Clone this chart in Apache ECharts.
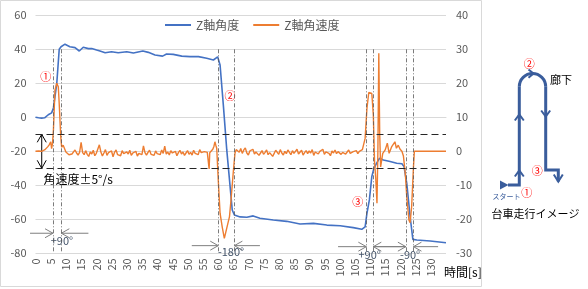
<!DOCTYPE html>
<html><head><meta charset="utf-8">
<script src="https://cdn.jsdelivr.net/npm/echarts@6/dist/echarts.min.js"></script>
<style>html,body{margin:0;padding:0;background:#fff}#c{width:588px;height:289px}</style>
</head><body><div id="c"></div>
<script>
const seriesNames = ['Z軸角度', 'Z軸角速度'];

// Z-axis angle [time s, deg] (left axis)
const angleData = [[0,0],[1,-0.3],[2,-0.5],[3,-0.3],[4.2,1.5],[5.3,2.6],[5.9,5.5],[7,20],[7.8,40],[8.4,41.5],[9.7,43],[11.3,41.5],[13,41],[14.4,39],[15.7,41.2],[17.4,40.4],[18.5,40.5],[20.1,39.6],[21.2,39],[22.9,38],[25,38.6],[27.2,38],[30,38.6],[32.2,37.8],[35.3,39],[37.1,38.2],[39.3,36.6],[41.8,36],[43.1,37.2],[45.3,37],[48.1,36],[50.8,35.7],[53.6,35.7],[56.3,34.7],[58.5,33.7],[59.9,35.6],[60.7,30.8],[61.8,6.6],[62.9,-19.2],[64,-40.8],[64.7,-54.5],[65.4,-57.5],[67.3,-58.6],[69.5,-58.8],[71.6,-58],[73.8,-59.4],[78.2,-60.4],[82.6,-61.2],[87,-62.8],[91.4,-62.4],[95.8,-63.4],[100.2,-63.8],[104.5,-64.9],[107.3,-65.9],[108.4,-64.4],[109,-56.5],[109.8,-48.6],[110.6,-34.9],[111.3,-30],[112.2,-27],[113.1,-24.1],[114.4,-25.1],[116.6,-26],[118.8,-27],[120.5,-27.3],[121.2,-29],[122.1,-38.8],[123.2,-58.5],[124.1,-71.8],[125.4,-72.2],[129.8,-72.8],[135,-73.8]];

// Z-axis angular rate [time s, deg/s] (right axis)
const rateStart = [[0,0],[0.5,0],[1,0.1],[1.5,-0.1],[2,0],[2.5,0.2],[3,0.4],[3.5,0.9],[4,1.3],[4.5,1.9],[5,2.8],[5.3,0.8],[5.6,2.4],[5.9,6.3],[6.4,18],[7,20],[7.5,19],[7.8,14],[8.3,4.3],[8.6,1.2],[9.1,1.8],[9.6,1.4],[10,-0.2],[10.5,0.3],[11,-1],[11.5,-0.6]];
const rateCruise1 = [[12,-0.8],[12.5,-1.2],[13,0.4],[13.5,-0.5],[14,-1.1],[14.5,-0.3],[15,2.6],[15.5,-0.4],[16,-1.0],[16.5,0.2],[17,-0.9],[17.5,-1.5],[18,-0.2],[18.5,-0.8],[19,0.3],[19.5,-1.3],[20,-0.6],[20.5,-1.1],[21,1.9],[21.5,-0.2],[22,-1.4],[22.5,-0.5],[23,0.5],[23.5,-1.2],[24,-0.4],[24.5,-0.9],[25,0.1],[25.5,-1.6],[26,-0.3],[26.5,0.4],[27,-1.0],[27.5,-0.5],[28,-1.3],[28.5,0.2],[29,-0.7],[29.5,-1.1],[30,-0.2],[30.5,-0.8],[31,0.3],[31.5,-1.2],[32,-0.5],[32.5,-0.9],[33,0.0],[33.5,-1.4],[34,-0.6],[34.5,-0.2],[35,-1.0],[35.5,1.6],[36,-0.4],[36.5,-1.1],[37,-0.3],[37.5,0.3],[38,-0.9],[38.5,-0.5],[39,-1.2],[39.5,0.1],[40,-0.7],[40.5,-0.3],[41,-1.0],[41.5,0.4],[42,-0.6],[42.5,1.5],[43,-0.8],[43.5,-0.2],[44,-1.1],[44.5,0.2],[45,-0.5],[45.5,-0.9],[46,0.0],[46.5,-1.3],[47,-0.4],[47.5,0.3],[48,-0.8],[48.5,-0.2],[49,-1.2],[49.5,-0.5],[50,0.2],[50.5,-0.9],[51,-0.3],[51.5,-1.1],[52,0.3],[52.5,-0.6],[53,-0.2],[53.5,-1.0],[54,0.5],[54.5,-0.4],[55,-0.8],[55.5,-0.1],[56,-0.6],[56.5,-0.3],[56.9,-0.5],[57.1,-5.2],[57.3,-0.4]];
const rateTurn2 = [[57.8,-0.2],[58.3,0.6],[58.7,1.5],[59,2.8],[59.3,1.8],[59.6,0.9],[60.1,-8.4],[60.7,-18.2],[61.4,-22.2],[62.1,-25.6],[62.9,-22.6],[63.8,-19.2],[64.3,-14.3],[65.1,-5.5],[65.6,-0.6]];
const rateCruise2 = [[66,0.5],[66.5,0.2],[67,-0.3],[67.5,0.8],[68,-0.6],[68.5,0.4],[69,1.0],[69.5,-0.5],[70,-1.1],[70.5,0.1],[71,-0.4],[71.5,0.6],[72,-0.8],[72.5,-0.2],[73,0.3],[73.5,-1.2],[74,-0.5],[74.5,0.2],[75,-0.9],[75.5,-0.3],[76,0.4],[76.5,-1.0],[77,-0.4],[77.5,0.1],[78,-1.5],[78.5,-0.6],[79,0.3],[79.5,-0.2],[80,-0.9],[80.5,0.5],[81,-0.5],[81.5,-1.1],[82,0.0],[82.5,-0.7],[83,0.4],[83.5,-0.3],[84,-1.0],[84.5,0.2],[85,-0.6],[85.5,-0.1],[86,0.6],[86.5,-0.8],[87,-0.3],[87.5,0.3],[88,-1.1],[88.5,-0.4],[89,0.2],[89.5,-0.7],[90,0.1],[90.5,-0.5],[91,0.5],[91.5,-1.2],[92,-0.2],[92.5,0.3],[93,-0.8],[93.5,0.0],[94,-0.4],[94.5,0.6],[95,-0.9],[95.5,-0.2],[96,0.2],[96.5,-0.6],[97,-1.3],[97.5,0.1],[98,-0.5],[98.5,0.4],[99,-0.7],[99.5,-0.1],[100,0.3],[100.5,-0.9],[101,-0.3],[101.5,0.2],[102,-0.8],[102.5,-0.2],[103,0.4],[103.5,-0.6],[104,-1.0],[104.5,-0.1],[105,-0.5],[105.5,0.2],[106,-0.7],[106.5,0.0],[107,0.3],[107.5,0.5]];
const rateTurn3 = [[107.8,0.9],[108.4,3.8],[109,12.6],[109.6,17.3],[110,17.7],[110.6,17.0],[111.1,10.7],[111.5,-3.0],[111.9,-8.0],[112.3,-15.3],[112.6,0.0],[112.9,28.8],[113.2,5.0],[113.5,-4.6],[114.2,-0.6],[115,0.4],[115.7,2.4],[116.3,-0.6],[117.1,1.3],[118.2,2.8],[118.7,0.9],[119.3,1.8],[119.9,0.6],[120.5,0.0],[121,-1.4],[121.6,-6.4],[122.1,-13.4],[122.8,-20.2],[123.2,-21.0],[123.7,-16.3],[124.3,-4.6],[124.6,0.0],[125,0.3],[125.5,0.0],[135,0.0]];

// Axes
const timeRange = [0, 135];
const angleRange = [-80, 60];
const rateRange = [-30, 40];

// Annotations (data units)
const eventTimes = [5.76, 8.49, 60.1, 65.4, 108.8, 111.1, 121.8, 124.3];
const rateBand = [5, -5];
const turnLabels = ['+90°', '-180°', '+90°', '-90°'];
const circledMarks = ['①', '②', '③'];

const rateData = [].concat(rateStart, rateCruise1, rateTurn2, rateCruise2, rateTurn3);
const FONT = "'Noto Sans CJK JP', 'Noto Sans', sans-serif";

const chart = echarts.init(document.getElementById('c'));
chart.setOption({
  animation: false,
  textStyle: { fontFamily: FONT },
  legend: {
    left: 160, top: 14, icon: 'rect', itemWidth: 26, itemHeight: 2, itemGap: 14,
    textStyle: { fontSize: 12, color: '#595959', fontFamily: FONT },
    data: seriesNames
  },
  grid: { left: 35.5, right: 142, top: 15.3, bottom: 35.7, containLabel: false, outerBoundsMode: 'none' },
  xAxis: {
    type: 'value', min: timeRange[0], max: timeRange[1], interval: 5,
    axisLine: { show: true, lineStyle: { color: '#d9d9d9' } },
    axisTick: { show: false },
    splitLine: { show: false },
    axisLabel: { rotate: 90, fontSize: 11, color: '#595959', margin: 5, showMaxLabel: false, fontFamily: FONT }
  },
  yAxis: [
    { type: 'value', min: angleRange[0], max: angleRange[1], interval: 20, position: 'left',
      axisLine: { show: false }, axisTick: { show: false },
      splitLine: { lineStyle: { color: '#d9d9d9' } },
      axisLabel: { fontSize: 11, color: '#595959', margin: 9, fontFamily: FONT } },
    { type: 'value', min: rateRange[0], max: rateRange[1], interval: 10, position: 'right',
      axisLine: { show: false }, axisTick: { show: false }, splitLine: { show: false },
      axisLabel: { fontSize: 11, color: '#595959', margin: 10, fontFamily: FONT } }
  ],
  series: [
    { name: seriesNames[0], type: 'line', yAxisIndex: 0, data: angleData, showSymbol: false, symbol: 'none',
      lineStyle: { color: '#4472c4', width: 1.6 }, itemStyle: { color: '#4472c4' }, z: 2,
      markLine: { silent: true, symbol: ['none', 'none'], label: { show: false },
        lineStyle: { color: '#595959', type: [4, 2, 1, 2], width: 0.8 },
        data: eventTimes.map(t => [{ coord: [t, 40] }, { coord: [t, angleRange[0]] }]) } },
    { name: seriesNames[1], type: 'line', yAxisIndex: 1, data: rateData, showSymbol: false, symbol: 'none',
      lineStyle: { color: '#ed7d31', width: 1.4 }, itemStyle: { color: '#ed7d31' }, z: 3,
      markLine: { silent: true, symbol: ['none', 'none'], label: { show: false },
        lineStyle: { color: '#262626', type: [7, 4], width: 1 },
        data: rateBand.map(v => ({ yAxis: v })) } }
  ]
});

const P = (t, v, ax) => chart.convertToPixel({ xAxisIndex: 0, yAxisIndex: ax || 0 }, [t, v]);
const g = [];
const GRAY = '#7f7f7f';
function ln(x1, y1, x2, y2, stroke, w) {
  return { type: 'line', silent: true, shape: { x1, y1, x2, y2 }, style: { stroke: stroke || GRAY, lineWidth: w || 1 } };
}
function pl(points, stroke, w) {
  return { type: 'polyline', silent: true, shape: { points }, style: { stroke: stroke || GRAY, lineWidth: w || 1, fill: null } };
}
function tx(text, x, y, size, fill, align) {
  return { type: 'text', silent: true, x, y, style: { text, fontSize: size, fontFamily: FONT, fill,
    align: align || 'center', verticalAlign: 'middle' } };
}
// turn arrows: [tipLeft, tipRight, outerLeft, outerRight, yAngle, labelIdx, labelT, labelY]
const turnArrows = [
  [eventTimes[0], eventTimes[1], -1.8, 17.4, -68.2, 0, 8.7, -72.6],
  [eventTimes[2], eventTimes[3], 51.4, 73.8, -75.5, 1, 64.3, -79.4],
  [eventTimes[4], eventTimes[6], 99.5, null, -76.1, 2, 109.9, -80.6],
  [eventTimes[6], eventTimes[7], eventTimes[5], 132.4, -76.1, 3, 123.2, -80.6]
];
turnArrows.forEach(a => {
  const [xa, y] = P(a[0], a[4]);
  const [xl] = P(a[2], a[4]);
  g.push(ln(xl, y, xa, y), pl([[xa - 8, y - 4.5], [xa, y], [xa - 8, y + 4.5]]));
  if (a[3] !== null) {
    const [xb] = P(a[1], a[4]);
    const [xr] = P(a[3], a[4]);
    g.push(ln(xb, y, xr, y), pl([[xb + 8, y - 4.5], [xb, y], [xb + 8, y + 4.5]]));
  } else {
    const [xb] = P(eventTimes[5], a[4]);
    const [xc] = P(a[1], a[4]);
    g.push(ln(xb, y, xc, y), pl([[xb + 8, y - 4.5], [xb, y], [xb + 8, y + 4.5]]));
  }
  const [lx, ly] = P(a[6], a[7]);
  g.push(tx(turnLabels[a[5]], lx, ly, 11, '#44546a'));
});
// ±5 deg/s band arrow
{
  const [x, y1] = P(2.05, rateBand[0], 1);
  const [, y2] = P(2.05, rateBand[1], 1);
  g.push(ln(x, y1, x, y2, '#000'), pl([[x - 4.5, y1 + 8], [x, y1], [x + 4.5, y1 + 8]], '#000'),
    pl([[x - 4.5, y2 - 8], [x, y2], [x + 4.5, y2 - 8]], '#000'));
  const [lx, ly] = P(2.6, -8.4, 1);
  g.push(tx('角速度±5°/s', lx, ly, 12, '#000', 'left'));
}
// circled markers
[[3.36, 23.9], [64, 12.5], [106, -49.6]].forEach((p, i) => {
  const [x, y] = P(p[0], p[1]);
  g.push(tx(circledMarks[i], x, y, 11, '#ff0000'));
});
// axis name
g.push(tx('時間[s]', 444, 272, 12, '#000', 'left'));
// chart border
g.push({ type: 'rect', silent: true, shape: { x: 0.5, y: 0.5, width: 481, height: 286 }, style: { fill: null, stroke: '#d9d9d9', lineWidth: 1 } });
// route sketch
const RB = '#3a5d9c';
g.push(pl([[508, 185], [519.3, 185], [519.3, 86.7]], RB, 3));
g.push({ type: 'arc', silent: true, shape: { cx: 532.5, cy: 86.7, r: 13.2, startAngle: Math.PI, endAngle: 2 * Math.PI, clockwise: true },
  style: { stroke: RB, lineWidth: 3, fill: null } });
g.push(pl([[545.7, 86.7], [545.7, 170], [558.3, 170], [558.3, 181.5]], RB, 3));
g.push({ type: 'polygon', silent: true, shape: { points: [[500, 180.5], [508.5, 185], [500, 189.5]] }, style: { fill: RB } });
g.push(pl([[553.8, 174.5], [558.3, 181.7], [562.8, 174.5]], RB, 2));
g.push(pl([[514.8, 120.5], [519.3, 114.5], [523.8, 120.5]], RB, 2));
g.push(pl([[514.8, 176.5], [519.3, 170.5], [523.8, 176.5]], RB, 2));
g.push(pl([[541.2, 110.5], [545.7, 116.5], [550.2, 110.5]], RB, 2));
g.push(pl([[528.5, 69.5], [533.5, 73.6], [528.5, 77.7]], RB, 2));
g.push(tx('廊下', 550, 79.5, 11, '#000', 'left'));
g.push(tx('スタート', 492.5, 196, 7, '#3a5d9c', 'left'));
g.push(tx('台車走行イメージ', 491.5, 213.5, 11, '#000', 'left'));
g.push(tx('①', 526.7, 192.7, 11, '#ff0000'));
g.push(tx('②', 529.3, 64, 11, '#ff0000'));
g.push(tx('③', 537.3, 170.7, 11, '#ff0000'));
chart.setOption({ graphic: g });
</script>
</body></html>
